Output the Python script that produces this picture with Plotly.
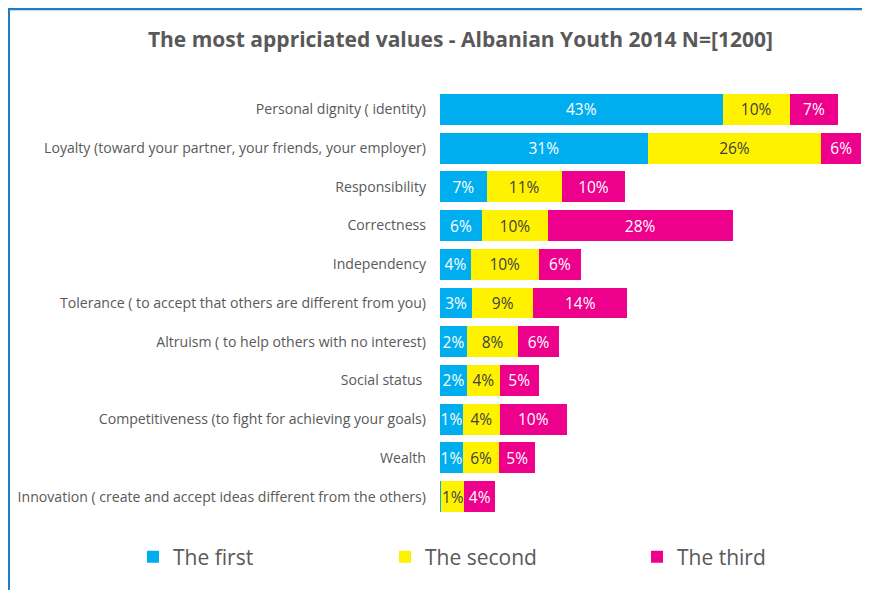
import plotly.graph_objects as go

categories = [
    "Personal dignity ( identity)",
    "Loyalty (toward your partner, your friends, your employer)",
    "Responsibility",
    "Correctness",
    "Independency",
    "Tolerance ( to accept that others are different from you)",
    "Altruism ( to help others with no interest)",
    "Social status ",
    "Competitiveness (to fight for achieving your goals)",
    "Wealth",
    "Innovation ( create and accept ideas different from the others)",
]

# bar lengths
first_vals = [43.0, 31.6, 7.1, 6.4, 4.7, 4.9, 4.1, 4.1, 3.5, 3.5, 0.2]
second_vals = [10.2, 26.4, 11.4, 10.0, 10.3, 9.3, 7.8, 5.0, 5.6, 5.5, 3.5]
third_vals = [7.4, 6.1, 9.7, 28.1, 6.5, 14.3, 6.2, 5.9, 10.2, 5.5, 4.7]

# printed labels
first_labels = ["43%", "31%", "7%", "6%", "4%", "3%", "2%", "2%", "1%", "1%", ""]
second_labels = ["10%", "26%", "11%", "10%", "10%", "9%", "8%", "4%", "4%", "6%", "1%"]
third_labels = ["7%", "6%", "10%", "28%", "6%", "14%", "6%", "5%", "10%", "5%", "4%"]

series = [
    ("The first", first_vals, first_labels, "#00AEEF", "white"),
    ("The second", second_vals, second_labels, "#FFF200", "#404040"),
    ("The third", third_vals, third_labels, "#EC008C", "white"),
]

fig = go.Figure()
for name, vals, labels, color, tcol in series:
    fig.add_trace(go.Bar(
        y=categories, x=vals, name=name, orientation="h",
        marker=dict(color=color, line=dict(width=0)),
        text=labels, textposition="inside", insidetextanchor="middle",
        constraintext="none", textangle=0,
        textfont=dict(color=tcol, size=15.5, family="Open Sans"),
        hoverinfo="skip",
    ))

OFF = 8  # page body margin
L, R = 440 - OFF, 862 - OFF
W, H = 870, 590
T, B = 90 - OFF, 516 - OFF

def px(x):
    return (x - L) / (R - L)

def py(y):
    return (B - y) / (B - T)

fig.update_layout(
    width=W, height=H,
    barmode="stack", bargap=0.2,
    plot_bgcolor="white", paper_bgcolor="white",
    margin=dict(l=L, r=W - R, t=T, b=H - B, autoexpand=False),
    title=dict(text="<b>The most appriciated values - Albanian Youth 2014 N=[1200]</b>",
               x=0.52, xanchor="center", y=1 - (40 - OFF) / H, yanchor="middle",
               font=dict(size=21, color="#595959", family="Open Sans")),
    xaxis=dict(range=[0, 64.2], visible=False, fixedrange=True),
    yaxis=dict(autorange="reversed", showgrid=False, showline=False, ticks="",
               automargin=False, ticklabelstandoff=13,
               tickfont=dict(size=14.1, color="#595959", family="Open Sans")),
    showlegend=True,
    legend=dict(orientation="h", x=px(125), xanchor="left", y=py(557 - OFF), yanchor="middle",
                entrywidth=207, entrywidthmode="pixels", traceorder="normal",
                font=dict(size=21, color="#595959", family="Open Sans")),
    font=dict(family="Open Sans"),
    shapes=[
        dict(type="line", xref="paper", yref="paper", x0=px(1), x1=px(1), y0=py(0), y1=py(600),
             line=dict(color="#1F7CC7", width=2)),
        dict(type="line", xref="paper", yref="paper", x0=px(0), x1=px(880), y0=py(1), y1=py(1),
             line=dict(color="#1F7CC7", width=2.5)),
    ],
)

fig.write_html("out.html")
